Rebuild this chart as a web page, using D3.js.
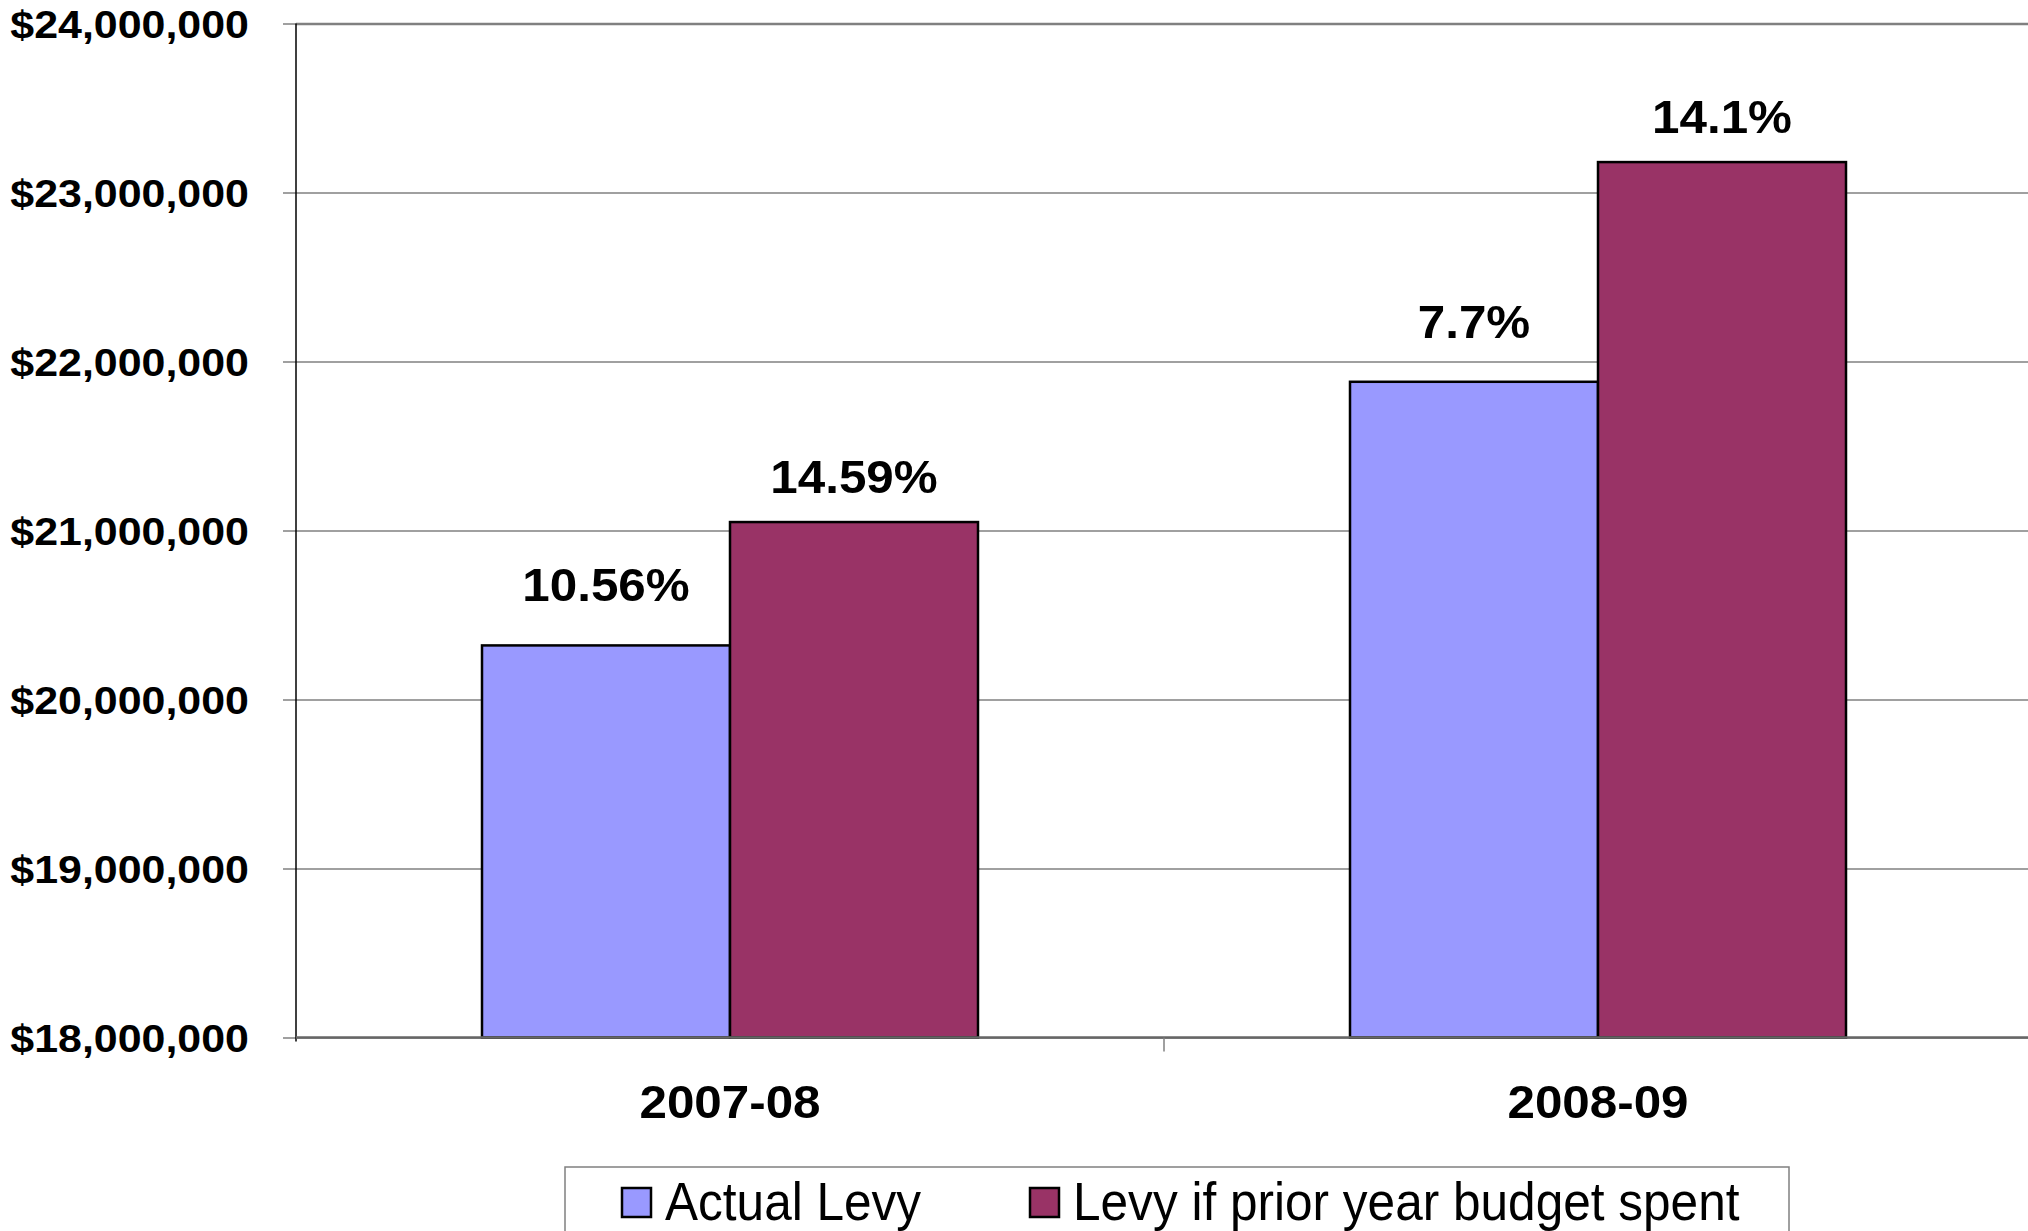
<!DOCTYPE html>
<html>
<head>
<meta charset="utf-8">
<script src="https://cdn.jsdelivr.net/npm/d3@7"></script>
<style>
  body { margin: 0; background: #fff; }
  text { font-family: "Liberation Sans", Arial, sans-serif; }
</style>
</head>
<body>
<div id="chart"></div>
<script>
// data
const categories = ["2007-08", "2008-09"];
const seriesNames = ["Actual Levy", "Levy if prior year budget spent"];
const actualLevy = [20320000, 21880000];
const priorBudgetLevy = [21050000, 23180000];
const actualLabels = ["10.56%", "7.7%"];
const priorLabels = ["14.59%", "14.1%"];
const yTicks = [18000000, 19000000, 20000000, 21000000, 22000000, 23000000, 24000000];
const colors = ["#9999FF", "#993366"];

// set the dimensions and margins of the graph
const W = 2028, H = 1231;
const margin = { top: 23.5, left: 296 },
  width = 1736,
  height = 1014;

const svg = d3.select("#chart")
  .append("svg")
  .attr("width", W)
  .attr("height", H);

const g = svg.append("g")
  .attr("transform", `translate(${margin.left},${margin.top})`);

// the text in the picture is a bit wider than the font, stretch it sideways
function stretch(sel, sx) {
  sel.each(function () {
    const t = d3.select(this);
    const tx = +t.attr("x") || 0, ty = +t.attr("y") || 0;
    t.attr("x", 0).attr("y", 0)
      .attr("transform", `translate(${tx},${ty}) scale(${sx},1)`);
  });
}

const y = d3.scaleLinear().domain([18000000, 24000000]).range([height, 0]);

const x0 = d3.scaleBand().domain(categories).range([0, width]).padding(0);
const x1 = d3.scaleBand().domain(seriesNames).range([0, x0.bandwidth()])
  .paddingInner(0).paddingOuter(0.75);

// gridlines
g.append("g")
  .call(d3.axisLeft(y).tickValues(yTicks).tickSize(-W).tickFormat(""))
  .call(a => a.select(".domain").remove())
  .selectAll("line")
  .attr("stroke", "#808080")
  .attr("stroke-width", (d) => d === 24000000 ? 2.5 : 1.3);

// bars
const rows = categories.map((c, i) => ({
  cat: c,
  vals: [
    { s: seriesNames[0], v: actualLevy[i], lab: actualLabels[i], k: 0 },
    { s: seriesNames[1], v: priorBudgetLevy[i], lab: priorLabels[i], k: 1 }
  ]
}));

const grp = g.selectAll(".grp")
  .data(rows)
  .enter()
  .append("g")
  .attr("transform", (d) => `translate(${x0(d.cat)},0)`);

grp.selectAll("rect")
  .data((d) => d.vals)
  .enter()
  .append("rect")
  .attr("x", (d) => x1(d.s))
  .attr("y", (d) => y(d.v))
  .attr("width", x1.bandwidth())
  .attr("height", (d) => height - y(d.v))
  .attr("fill", (d) => colors[d.k])
  .attr("stroke", "#000")
  .attr("stroke-width", 2.5);

// percent labels above the bars
grp.selectAll(".lab")
  .data((d) => d.vals)
  .enter()
  .append("text")
  .attr("x", (d) => x1(d.s) + x1.bandwidth() / 2)
  .attr("y", (d) => y(d.v) - (d.k === 0 ? 44 : 29))
  .attr("text-anchor", "middle")
  .attr("font-size", "47px")
  .attr("font-weight", "bold")
  .text((d) => d.lab)
  .call(stretch, 1.05);

// y axis
const yAxis = g.append("g")
  .call(d3.axisLeft(y).tickValues(yTicks).tickSize(13).tickPadding(34)
    .tickFormat(d3.format("$,")));
yAxis.select(".domain").remove();
yAxis.selectAll("line").attr("stroke", "#808080").attr("stroke-width", 1.5);
yAxis.selectAll("text")
  .attr("font-size", "38px")
  .attr("font-weight", "bold")
  .attr("fill", "#000")
  .attr("dy", "0.36em")
  .call(stretch, 1.13);

g.append("line")
  .attr("x1", 0).attr("x2", 0)
  .attr("y1", 0).attr("y2", height + 4)
  .attr("stroke", "#000")
  .attr("stroke-width", 1.5);

// x axis
const xAxis = g.append("g")
  .attr("transform", `translate(0,${height})`)
  .call(d3.axisBottom(x0).tickSize(0).tickPadding(0));
xAxis.select(".domain").remove();
xAxis.selectAll("text")
  .attr("font-size", "47px")
  .attr("font-weight", "bold")
  .attr("fill", "#000")
  .attr("dy", "0")
  .attr("y", 80)
  .call(stretch, 1.05);

g.append("line")
  .attr("x1", 0).attr("x2", W)
  .attr("y1", height).attr("y2", height)
  .attr("stroke", "#666")
  .attr("stroke-width", 2.5);

// category boundary tick
g.selectAll(".ctick")
  .data(categories.slice(1))
  .enter()
  .append("line")
  .attr("x1", (d) => x0(d)).attr("x2", (d) => x0(d))
  .attr("y1", height).attr("y2", height + 14)
  .attr("stroke", "#808080")
  .attr("stroke-width", 1.5);

// legend
const legend = svg.append("g");
legend.append("rect")
  .attr("x", 565).attr("y", 1167)
  .attr("width", 1224).attr("height", 100)
  .attr("fill", "#fff")
  .attr("stroke", "#808080")
  .attr("stroke-width", 1.5);

const legendX = [622, 1030];
const item = legend.selectAll(".item")
  .data(seriesNames)
  .enter()
  .append("g")
  .attr("transform", (d, i) => `translate(${legendX[i]},1188)`);

item.append("rect")
  .attr("width", 29).attr("height", 29)
  .attr("fill", (d, i) => colors[i])
  .attr("stroke", "#000")
  .attr("stroke-width", 2.5);

item.append("text")
  .attr("x", 43)
  .attr("y", 32)
  .attr("font-size", "53px")
  .attr("fill", "#000")
  .text((d) => d)
  .call(stretch, 0.935);
</script>
</body>
</html>
